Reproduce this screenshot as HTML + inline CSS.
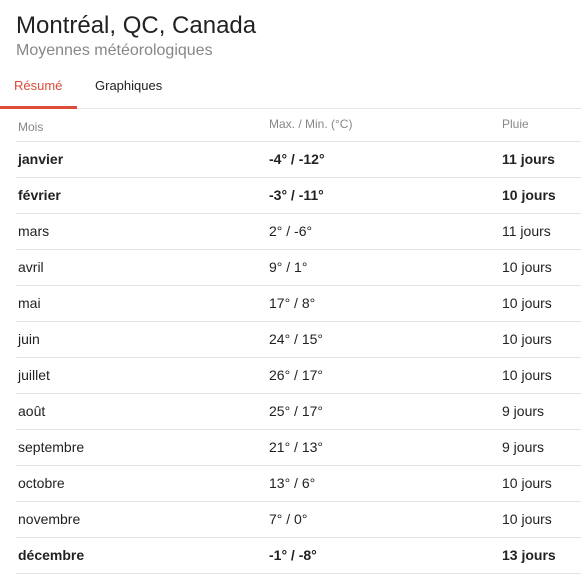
<!DOCTYPE html>
<html><head><meta charset="utf-8"><style>
body{margin:0;width:581px;height:573px;overflow:hidden;background:#fff;font-family:"Liberation Sans",Arial,sans-serif;position:relative}
.abs{position:absolute;white-space:nowrap}
#title{left:16px;top:12px;font-size:24px;color:#222}
#sub{left:16px;top:42px;font-size:16px;color:#878787}
.tab{top:78px;font-size:13px}
#tabline{left:0;top:108px;width:581px;height:1px;background:#e6e6e6}
#tabind{left:0;top:106px;width:77px;height:3px;background:#dd4b39}
.row{position:absolute;left:16px;width:565px;height:36px;border-bottom:1px solid #e3e3e3;font-size:14px;color:#222}
.row span{position:absolute;top:10px}
.c1{left:2px}.c2{left:253px}.c3{left:486px}
.hdr{color:#878787;font-size:12px}
.b{font-weight:bold}
</style></head><body>
<div class="abs" id="title">Montréal, QC, Canada</div>
<div class="abs" id="sub">Moyennes météorologiques</div>
<div class="abs tab" style="left:14px;color:#dd4b39">Résumé</div>
<div class="abs tab" style="left:95px;color:#222">Graphiques</div>
<div class="abs" id="tabline"></div>
<div class="abs" id="tabind"></div>
<div id="table"></div>
<script>
const months=["janvier","février","mars","avril","mai","juin","juillet","août","septembre","octobre","novembre","décembre"];
const maxT=[-4,-3,2,9,17,24,26,25,21,13,7,-1];
const minT=[-12,-11,-6,1,8,15,17,17,13,6,0,-8];
const rain=[11,10,11,10,10,10,10,9,9,10,10,13];
const bold=[true,true,false,false,false,false,false,false,false,false,false,true];
const t=document.getElementById('table');
const h=document.createElement('div');
h.className='row hdr';h.style.top='106px';h.style.height='35px';


h.innerHTML='<span class="c1" style="top:14px">Mois</span><span class="c2" style="top:11px">Max. / Min. (°C)</span><span class="c3" style="top:11px">Pluie</span>';
t.appendChild(h);
months.forEach((m,i)=>{
 const r=document.createElement('div');
 r.className='row'+(bold[i]?' b':'');
 r.style.top=(141+i*36)+'px';
 
 
 r.innerHTML='<span class="c1">'+m+'</span><span class="c2">'+maxT[i]+'° / '+minT[i]+'°</span><span class="c3">'+rain[i]+' jours</span>';
 t.appendChild(r);
});
</script>
</body></html>
